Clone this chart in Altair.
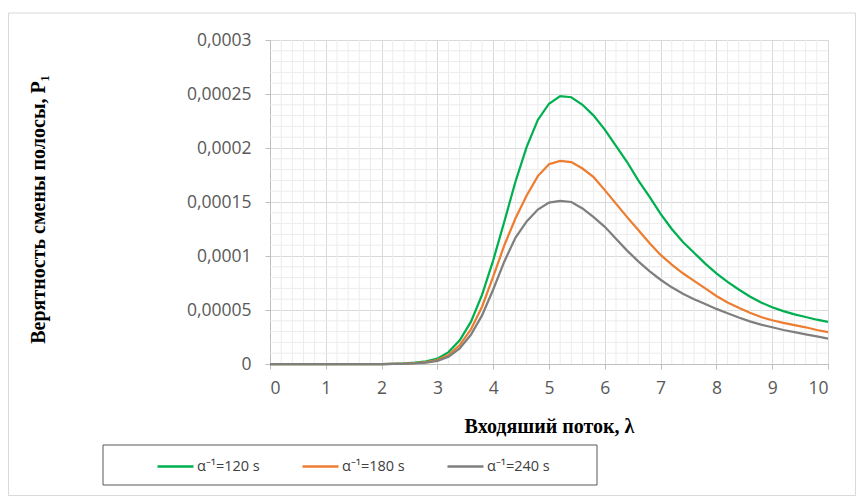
import altair as alt
import pandas as pd

# ---- data (P values in units of 1e-6) ----
lam = [0.0, 0.2, 0.4, 0.6, 0.8, 1.0, 1.2, 1.4, 1.6, 1.8,
       2.0, 2.2, 2.4, 2.6, 2.8, 3.0, 3.2, 3.4, 3.6, 3.8,
       4.0, 4.2, 4.4, 4.6, 4.8, 5.0, 5.2, 5.4, 5.6, 5.8,
       6.0, 6.2, 6.4, 6.6, 6.8, 7.0, 7.2, 7.4, 7.6, 7.8,
       8.0, 8.2, 8.4, 8.6, 8.8, 9.0, 9.2, 9.4, 9.6, 9.8, 10.0]

p_120 = [0, 0, 0, 0, 0, 0, 0, 0, 0, 0,
         0, 0.2, 0.5, 1.2, 2.5, 5, 11, 22, 39, 64,
         96, 132, 169, 201, 226, 241, 248, 247, 240, 230,
         217, 202, 187, 170, 155, 139, 125, 113, 103, 93,
         84, 76, 69, 62.5, 57, 52.5, 49, 46, 43.5, 41, 39]

p_180 = [0, 0, 0, 0, 0, 0, 0, 0, 0, 0,
         0, 0.1, 0.3, 0.8, 1.8, 3.7, 8.3, 17.5, 32, 53,
         81, 110, 135, 156, 174, 185, 188, 187, 181, 173,
         161, 148.5, 136, 124, 112, 101, 92, 84, 77, 70,
         63, 57, 52, 47.5, 43.5, 40.5, 38, 36, 34, 31.5, 29.5]

p_240 = [0, 0, 0, 0, 0, 0, 0, 0, 0, 0,
         0, 0.1, 0.2, 0.6, 1.3, 2.8, 6.8, 14.5, 27, 45,
         69, 95, 117, 132, 143, 149.5, 151, 150, 144, 136,
         127, 116, 105, 95, 86, 78, 71, 65, 60, 55.5,
         51, 47, 43, 39.5, 36.5, 34, 31.5, 29.5, 27.5, 25.5, 23.5]

series_names = ["α⁻¹=120 s", "α⁻¹=180 s", "α⁻¹=240 s"]
series_colors = ["#00b050", "#ed7d31", "#7f7f7f"]

x_ticks = [0, 1, 2, 3, 4, 5, 6, 7, 8, 9, 10]
y_ticks = [0, 0.00005, 0.0001, 0.00015, 0.0002, 0.00025, 0.0003]

x_title = "Входяший поток, λ"
y_title = "Верятность смены полосы, P₁"

# minor grid positions (every 0.2 in x, every 0.00001 in y)
minor_x = [i / 5 for i in range(51) if i % 5 != 0]
minor_y = [i / 100000 for i in range(31) if i % 5 != 0]

rows = []
for name, vals in zip(series_names, [p_120, p_180, p_240]):
    for x, v in zip(lam, vals):
        rows.append({"lam": x, "p": v * 1e-6, "series": name})
df = pd.DataFrame(rows)

W, H = 558, 324
xs = alt.Scale(domain=[0, 10], nice=False, zero=False)
ys = alt.Scale(domain=[0, 0.0003], nice=False)

x_axis = alt.Axis(
    values=x_ticks, title=x_title, format="d",
    labelFont="Open Sans", labelFontSize=17.5, labelColor="#595959",
    labelPadding=10, tickSize=5, tickColor="#bfbfbf",
    domainColor="#bfbfbf", gridColor="#d9d9d9", grid=True,
    titleFont="Liberation Serif", titleFontSize=20, titleFontWeight="bold",
    titleColor="#000000", titleX=279, titleY=62, titleBaseline="middle",
    titleAlign="center")

y_axis = alt.Axis(
    values=y_ticks, title=y_title,
    labelExpr="replace(format(datum.value, '~g'), '.', ',')",
    labelFont="Open Sans", labelFontSize=17.5, labelColor="#595959",
    labelPadding=14, tickSize=5, tickColor="#bfbfbf",
    domainColor="#bfbfbf", gridColor="#d9d9d9", grid=True,
    titleFont="Liberation Serif", titleFontSize=20, titleFontWeight="bold",
    titleColor="#000000", titleAngle=270, titleX=-232, titleY=169,
    titleBaseline="middle", titleAlign="center")

outer = alt.Chart(alt.Data(values=[{}])).mark_rect(
    fillOpacity=0, stroke="#d9d9d9", strokeWidth=1
).encode(x=alt.value(-261.5), x2=alt.value(585.5), y=alt.value(-27), y2=alt.value(455.5))

minor_v = alt.Chart(pd.DataFrame({"v": minor_x})).mark_rule(
    color="#ececec", strokeWidth=1
).encode(x=alt.X("v:Q", scale=xs, axis=x_axis), y=alt.value(0), y2=alt.value(H))

minor_h = alt.Chart(pd.DataFrame({"v": minor_y})).mark_rule(
    color="#ececec", strokeWidth=1
).encode(y=alt.Y("v:Q", scale=ys, axis=y_axis), x=alt.value(0), x2=alt.value(W))

lines = alt.Chart(df).mark_line(strokeWidth=2.25).encode(
    x=alt.X("lam:Q", scale=xs, axis=x_axis),
    y=alt.Y("p:Q", scale=ys, axis=y_axis),
    color=alt.Color("series:N", scale=alt.Scale(domain=series_names, range=series_colors),
                    legend=alt.Legend(
                        orient="none", legendX=-114, legendY=407, direction="horizontal",
                        title=None, symbolType="stroke", symbolSize=1296,
                        symbolStrokeWidth=2.5, labelFont="Open Sans", labelFontSize=14.5,
                        labelColor="#404040", columnPadding=37, labelOffset=2, padding=0)),
)

legend_box = alt.Chart(alt.Data(values=[{}])).mark_rect(
    fillOpacity=0, stroke="#595959", strokeWidth=1
).encode(x=alt.value(-167), x2=alt.value(327), y=alt.value(405), y2=alt.value(445))

chart = alt.layer(outer, minor_v, minor_h, lines, legend_box).properties(
    width=W, height=H,
    autosize=alt.AutoSizeParams(type="none"),
    padding={"left": 262, "top": 32, "right": 28, "bottom": 132},
    background="white",
).configure_view(strokeWidth=0)

chart.save("out.html", embed_options={"renderer": "svg", "actions": False})
